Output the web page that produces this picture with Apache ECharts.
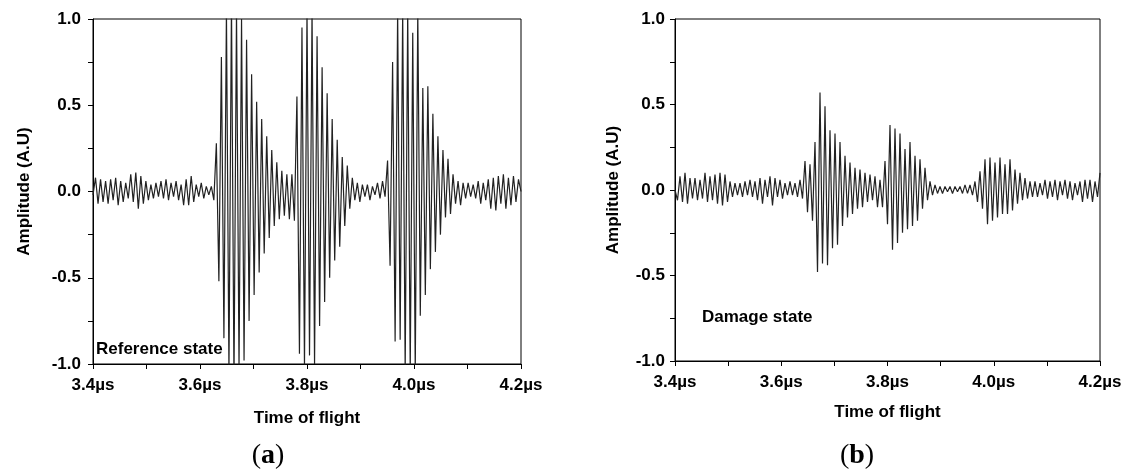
<!DOCTYPE html>
<html>
<head>
<meta charset="utf-8">
<title>Time of flight signals</title>
<script src="https://cdn.jsdelivr.net/npm/echarts@6/dist/echarts.min.js"></script>
<style>
  html, body { margin: 0; padding: 0; background: #fff; }
  #chart { width: 1128px; height: 470px; }
</style>
</head>
<body>
<div id="chart"></div>
<script>
// Sampling grid of the recorded waveforms (µs): one sample per signal extreme
const timeStart = 3.4;
const timeEnd = 4.2;
const sampleCount = 171;

// Amplitude (A.U) of the reference-state signal, one value per sample
const referenceState = [
  -0.02, 0.08, -0.07, 0.07, -0.06, 0.06, -0.07, 0.07, -0.05, 0.08,
  -0.08, 0.06, -0.06, 0.05, -0.04, 0.10, -0.06, 0.11, -0.10, 0.09,
  -0.07, 0.06, -0.05, 0.04, -0.04, 0.05, -0.03, 0.06, -0.04, 0.07,
  -0.05, 0.05, -0.03, 0.06, -0.05, 0.04, -0.08, 0.07, -0.08, 0.09,
  -0.06, 0.04, -0.03, 0.05, -0.04, 0.03, -0.02, 0.03, -0.05, 0.28,
  -0.52, 0.78, -0.85, 1.05, -1.05, 1.10, -1.10, 1.05, -1.02, 1.00,
  -0.98, 0.88, -0.75, 0.68, -0.60, 0.52, -0.47, 0.42, -0.36, 0.32,
  -0.27, 0.24, -0.20, 0.17, -0.16, 0.12, -0.14, 0.10, -0.16, 0.10,
  -0.17, 0.55, -0.94, 0.95, -1.02, 1.05, -0.95, 1.05, -1.00, 0.90,
  -0.78, 0.72, -0.64, 0.57, -0.50, 0.42, -0.40, 0.30, -0.32, 0.20,
  -0.20, 0.15, -0.10, 0.08, -0.05, 0.05, -0.06, 0.04, -0.03, 0.04,
  -0.05, 0.03, -0.02, 0.05, -0.04, 0.06, -0.03, 0.18, -0.43, 0.75,
  -0.87, 1.05, -0.86, 1.05, -1.05, 1.05, -1.05, 0.92, -1.05, 1.05,
  -0.72, 0.60, -0.60, 0.61, -0.45, 0.45, -0.35, 0.32, -0.25, 0.24,
  -0.15, 0.19, -0.13, 0.10, -0.07, 0.06, -0.08, 0.05, -0.04, 0.05,
  -0.03, 0.04, -0.04, 0.06, -0.07, 0.05, -0.05, 0.07, -0.10, 0.08,
  -0.11, 0.09, -0.07, 0.10, -0.10, 0.08, -0.08, 0.09, -0.06, 0.07,
  0.00
];

// Amplitude (A.U) of the damage-state signal, one value per sample
const damageState = [
  0.00, -0.06, 0.08, -0.07, 0.10, -0.08, 0.07, -0.05, 0.07, -0.06,
  0.06, -0.05, 0.10, -0.07, 0.08, -0.06, 0.09, -0.08, 0.10, -0.09,
  0.09, -0.07, 0.05, -0.04, 0.04, -0.03, 0.04, -0.04, 0.05, -0.03,
  0.06, -0.04, 0.05, -0.06, 0.07, -0.08, 0.06, -0.04, 0.08, -0.09,
  0.07, -0.04, 0.06, -0.05, 0.04, -0.03, 0.05, -0.03, 0.04, -0.04,
  0.06, -0.05, 0.17, -0.13, 0.15, -0.18, 0.28, -0.48, 0.57, -0.43,
  0.49, -0.44, 0.35, -0.34, 0.33, -0.32, 0.28, -0.21, 0.20, -0.16,
  0.16, -0.14, 0.13, -0.11, 0.12, -0.10, 0.10, -0.07, 0.09, -0.06,
  0.08, -0.10, 0.06, -0.10, 0.17, -0.20, 0.38, -0.35, 0.36, -0.31,
  0.33, -0.25, 0.24, -0.23, 0.28, -0.21, 0.20, -0.18, 0.18, -0.11,
  0.13, -0.06, 0.05, -0.03, 0.03, -0.02, 0.02, -0.02, 0.02, -0.01,
  0.02, -0.02, 0.02, -0.01, 0.02, -0.02, 0.03, -0.02, 0.03, -0.03,
  0.05, -0.07, 0.11, -0.11, 0.18, -0.20, 0.19, -0.18, 0.16, -0.16,
  0.19, -0.14, 0.15, -0.14, 0.18, -0.12, 0.12, -0.08, 0.10, -0.06,
  0.07, -0.05, 0.05, -0.04, 0.05, -0.04, 0.04, -0.03, 0.06, -0.05,
  0.05, -0.04, 0.06, -0.06, 0.05, -0.03, 0.06, -0.05, 0.05, -0.06,
  0.04, -0.03, 0.05, -0.07, 0.06, -0.05, 0.06, -0.07, 0.05, -0.04,
  0.10
];

// Axis ticks
const timeTicks = [3.4, 3.6, 3.8, 4.0, 4.2];
const amplitudeTicks = [-1.0, -0.5, 0.0, 0.5, 1.0];

const panelLabels = ['Reference state', 'Damage state'];
const panelCaptions = ['a', 'b'];

const sampleStep = (timeEnd - timeStart) / (sampleCount - 1);
function toPairs(values) {
  return values.map((v, i) => [timeStart + i * sampleStep, v]);
}

const sansBold = {
  fontFamily: 'Liberation Sans, Arial, sans-serif',
  fontWeight: 'bold',
  fontSize: 17,
  color: '#000'
};

function xAxisFor(gridIndex, nameGap) {
  return {
    type: 'value',
    gridIndex: gridIndex,
    min: timeTicks[0],
    max: timeTicks[timeTicks.length - 1],
    interval: timeTicks[1] - timeTicks[0],
    axisLine: { show: true, onZero: false, lineStyle: { color: '#000', width: 1 } },
    axisTick: { show: true, inside: false, length: 5, lineStyle: { color: '#000' } },
    minorTick: { show: true, splitNumber: 2, length: 5, lineStyle: { color: '#000' } },
    splitLine: { show: false },
    axisLabel: Object.assign({ margin: 13, formatter: v => v.toFixed(1) + 'µs' }, sansBold),
    name: 'Time of flight',
    nameLocation: 'middle',
    nameGap: nameGap,
    nameTextStyle: sansBold
  };
}

function yAxisFor(gridIndex, labelMargin, nameGap) {
  return {
    type: 'value',
    gridIndex: gridIndex,
    min: amplitudeTicks[0],
    max: amplitudeTicks[amplitudeTicks.length - 1],
    interval: amplitudeTicks[1] - amplitudeTicks[0],
    axisLine: { show: true, onZero: false, lineStyle: { color: '#000', width: 1 } },
    axisTick: { show: true, inside: false, length: 5, lineStyle: { color: '#000' } },
    minorTick: { show: true, splitNumber: 2, length: 5, lineStyle: { color: '#000' } },
    splitLine: { show: false },
    axisLabel: Object.assign({ margin: labelMargin, formatter: v => v.toFixed(1) }, sansBold),
    name: 'Amplitude (A.U)',
    nameLocation: 'middle',
    nameGap: nameGap,
    nameTextStyle: sansBold
  };
}

function signalSeries(index, values) {
  return {
    type: 'line',
    xAxisIndex: index,
    yAxisIndex: index,
    data: toPairs(values),
    showSymbol: false,
    symbol: 'none',
    clip: true,
    lineStyle: { color: '#222', width: 1.2 },
    silent: true
  };
}

function captionText(letter, x) {
  return {
    type: 'text', x: x, y: 456,
    style: {
      text: '{p|(}{b|' + letter + '}{p|)}',
      align: 'center', verticalAlign: 'middle',
      rich: {
        p: { font: '28px "Liberation Serif", serif', fill: '#000' },
        b: { font: 'bold 28px "Liberation Serif", serif', fill: '#000' }
      }
    }
  };
}

const chart = echarts.init(document.getElementById('chart'), null, { renderer: 'canvas' });
chart.setOption({
  animation: false,
  backgroundColor: '#fff',
  grid: [
    { left: 93, top: 19, width: 428, height: 345, show: true, borderColor: '#000', borderWidth: 1, backgroundColor: 'transparent' },
    { left: 675, top: 19, width: 425, height: 342, show: true, borderColor: '#000', borderWidth: 1, backgroundColor: 'transparent' }
  ],
  xAxis: [xAxisFor(0, 46), xAxisFor(1, 43)],
  yAxis: [yAxisFor(0, 12, 60), yAxisFor(1, 10, 53)],
  series: [signalSeries(0, referenceState), signalSeries(1, damageState)],
  graphic: [
    {
      type: 'text', left: 96, top: 341,
      style: { text: panelLabels[0], font: 'bold 17px "Liberation Sans", Arial, sans-serif', fill: '#000' }
    },
    {
      type: 'text', left: 702, top: 309,
      style: { text: panelLabels[1], font: 'bold 17px "Liberation Sans", Arial, sans-serif', fill: '#000' }
    },
    captionText(panelCaptions[0], 268),
    captionText(panelCaptions[1], 857)
  ]
});
</script>
</body>
</html>
